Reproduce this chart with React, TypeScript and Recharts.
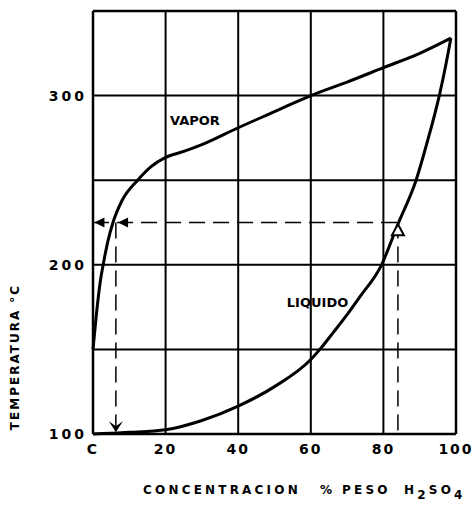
import { LineChart, Line, XAxis, YAxis, CartesianGrid, ReferenceLine, ReferenceDot } from "recharts";

// concentracion (% peso H2SO4) vs temperatura (°C)
const vaporX = [0, 1, 2, 2.8, 4, 5.5, 8, 12.3, 16, 20, 25, 30, 40, 50, 60, 70, 80, 90, 98.6];
const vaporT = [150, 172, 190, 200, 213, 225, 238, 250, 258, 263.5, 267, 271, 281, 290.5, 300, 308, 316.5, 325, 334];

const liquidoX = [0, 5, 10, 20, 30, 40, 50, 60, 62.5, 66, 70, 73.5, 79.5, 84, 89, 92, 95.4, 97, 98.6];
const liquidoT = [100, 100.5, 101, 102.5, 108, 116.5, 128, 144, 150, 159.5, 170.5, 181, 200, 224, 250, 272, 300, 316, 334];

const xTicks = [0, 20, 40, 60, 80, 100];
const yTicks = [100, 150, 200, 250, 300, 350];
const yLabeled = [100, 200, 300];

// lectura de ejemplo: 84 % a 225 °C
const readT = 225;
const readXLiq = 84;
const readXVap = 6.3;

const vapor = vaporX.map((x, i) => ({ x, t: vaporT[i] }));
const liquido = liquidoX.map((x, i) => ({ x, t: liquidoT[i] }));

const FONT = "'DejaVu Sans', Verdana, sans-serif";

const leftArrow = (p: any) => (
  <path d={`M${p.cx},${p.cy} L${p.cx + 10},${p.cy - 5} L${p.cx + 10},${p.cy + 5} Z`} fill="#000" />
);
const downArrow = (p: any) => (
  <path d={`M${p.cx},${p.cy} L${p.cx - 7},${p.cy - 11} L${p.cx},${p.cy - 6} L${p.cx + 7},${p.cy - 11} Z`} fill="#000" />
);
const upTriangle = (p: any) => (
  <path d={`M${p.cx},${p.cy} L${p.cx - 6},${p.cy + 11} L${p.cx + 6},${p.cy + 11} Z`} fill="#fff" stroke="#000" strokeWidth={2} />
);
const curveLabel = (text: string) => (p: any) => (
  <text x={p.cx} y={p.cy} fontFamily={FONT} fontWeight="bold" fontSize={13} fill="#000">{text}</text>
);

export default function App() {
  return (
    <div style={{ position: "absolute", left: 0, top: 0, width: 475, height: 508, background: "#fff" }}>
      <LineChart width={475} height={508} margin={{ top: 11, right: 19, left: 0, bottom: 0 }}>
        <CartesianGrid stroke="#000" strokeWidth={2} />
        <XAxis
          dataKey="x" type="number" domain={[0, 100]} ticks={xTicks}
          tickFormatter={(v) => (v === 0 ? "C" : String(v))}
          height={74} tickLine={false} tickSize={0} tickMargin={10}
          axisLine={{ stroke: "#000", strokeWidth: 2.5 }}
          tick={{ fill: "#000", fontSize: 14, fontWeight: "bold", fontFamily: FONT, letterSpacing: 2 }}
          label={{
            content: () => (
              <text y={494} fontFamily={FONT} fontWeight="bold" fontSize={12} letterSpacing={3.2} fill="#000">
                <tspan x={143}>CONCENTRACION</tspan>
                <tspan x={320}>%</tspan>
                <tspan x={342}>PESO</tspan>
                <tspan x={404}>H</tspan>
                <tspan dy={5}>2</tspan>
                <tspan dy={-5}>SO</tspan>
                <tspan dy={5}>4</tspan>
              </text>
            ),
          }}
        />
        <YAxis
          type="number" domain={[100, 350]} ticks={yTicks} width={93}
          tickFormatter={(v) => (yLabeled.includes(v) ? String(v) : "")}
          tickLine={false} tickSize={0} tickMargin={6}
          axisLine={{ stroke: "#000", strokeWidth: 2.5 }}
          tick={{ fill: "#000", fontSize: 14, fontWeight: "bold", fontFamily: FONT, letterSpacing: 3 }}
          label={{
            content: () => (
              <text x={19} y={357} transform="rotate(-90 19 357)" textAnchor="middle" fontFamily={FONT} fontWeight="bold" fontSize={12} letterSpacing={2} fill="#000">
                TEMPERATURA °C
              </text>
            ),
          }}
        />
        <ReferenceLine y={350} stroke="#000" strokeWidth={2.5} />
        <ReferenceLine x={100} stroke="#000" strokeWidth={2.5} />

        <ReferenceLine segment={[{ x: 0, y: readT }, { x: readXLiq, y: readT }]} stroke="#000" strokeWidth={1.5} strokeDasharray="16 8" />
        <ReferenceLine segment={[{ x: readXVap, y: readT }, { x: readXVap, y: 100 }]} stroke="#000" strokeWidth={1.5} strokeDasharray="16 8" />
        <ReferenceLine segment={[{ x: readXLiq, y: readT }, { x: readXLiq, y: 100 }]} stroke="#000" strokeWidth={1.5} strokeDasharray="16 8" />

        <Line data={vapor} dataKey="t" type="monotone" stroke="#000" strokeWidth={3} dot={false} isAnimationActive={false} />
        <Line data={liquido} dataKey="t" type="monotone" stroke="#000" strokeWidth={3} dot={false} isAnimationActive={false} />

        <ReferenceDot x={0.4} y={readT} r={0} shape={leftArrow} />
        <ReferenceDot x={6.9} y={readT} r={0} shape={leftArrow} />
        <ReferenceDot x={readXVap} y={101} r={0} shape={downArrow} />
        <ReferenceDot x={readXLiq} y={224} r={0} shape={upTriangle} />

        <ReferenceDot x={21.2} y={282.7} r={0} shape={curveLabel("VAPOR")} />
        <ReferenceDot x={53.4} y={175.2} r={0} shape={curveLabel("LIQUIDO")} />
      </LineChart>
    </div>
  );
}
